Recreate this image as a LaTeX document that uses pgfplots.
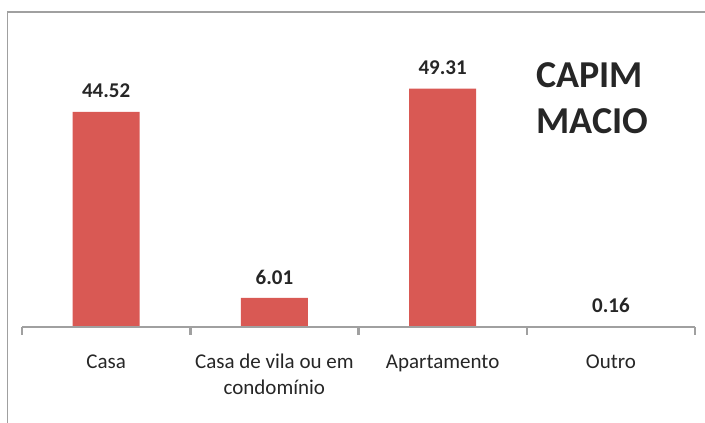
\documentclass[border=0pt]{standalone}
\usepackage{pgfplots}
\pgfplotsset{compat=1.18}
\usepackage{fontspec}
\setmainfont{Carlito}
\definecolor{barred}{RGB}{217,89,84}
\definecolor{axgray}{RGB}{160,160,160}
\definecolor{txt}{RGB}{38,38,38}
\begin{document}
\begin{tikzpicture}
\path[use as bounding box] (0,0) rectangle (705pt,423pt);
\draw[axgray, line width=1.5pt] (7.5pt,0) -- (7.5pt,411pt) -- (706pt,411pt);
\begin{axis}[
  at={(22pt,96pt)}, anchor=south west,
  scale only axis, width=673pt, height=290pt,
  xmin=-0.5, xmax=3.5, ymin=0, ymax=60,
  axis on top,
  axis x line*=bottom, axis y line=none,
  x axis line style={axgray, line width=2.5pt, -},
  xtick={0,1,2,3},
  xticklabels={{\strut Casa},{\strut Casa de vila ou em\\\strut condomínio},{\strut Apartamento},{\strut Outro}},
  major tick length=0pt,
  xticklabel style={font=\fontsize{21}{26}\selectfont, text=txt, align=center, anchor=north, inner sep=0pt, yshift=-23pt},
  extra x ticks={-0.5,0.5,1.5,2.5,3.5},
  extra x tick labels={},
  extra x tick style={major tick length=8pt, tick align=outside, tick style={axgray, line width=2.5pt}},
  ybar, bar width=67pt,
  nodes near coords,
  every node near coord/.append style={font=\fontsize{21}{24}\bfseries, text=txt, anchor=south, inner sep=0pt, yshift=13.5pt},
  /pgf/number format/.cd, fixed, fixed zerofill, precision=2, assume math mode=true,
]
\addplot[fill=barred, draw=none] coordinates {(0,44.52) (1,6.01) (2,49.31) (3,0.16)};
\end{axis}
\node[anchor=base west, inner sep=0pt, text=txt, font=\fontsize{38}{46}\selectfont\bfseries] at (536pt,335pt) {CAPIM};
\node[anchor=base west, inner sep=0pt, text=txt, font=\fontsize{38}{46}\selectfont\bfseries] at (536pt,289pt) {MACIO};
\end{tikzpicture}
\end{document}
